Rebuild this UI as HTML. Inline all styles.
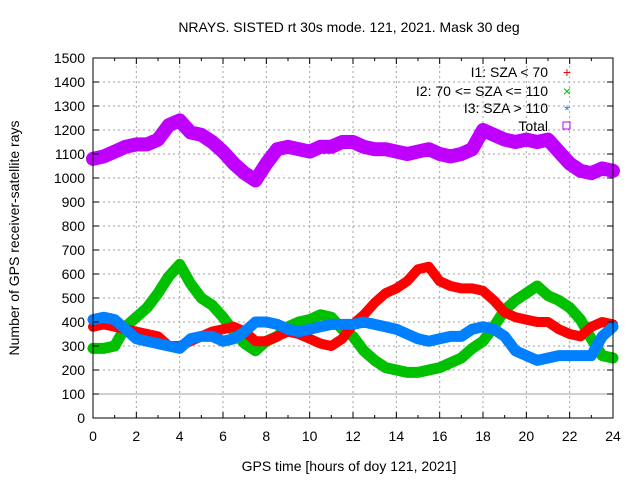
<!DOCTYPE html>
<html><head><meta charset="utf-8"><style>
body{margin:0;background:#fff}
svg{font-family:"Liberation Sans",sans-serif}
</style></head><body>
<svg id="chart" width="640" height="480" xmlns="http://www.w3.org/2000/svg">
<rect width="640" height="480" fill="#fff"/>
<text x="349" y="32" font-size="14" text-anchor="middle">NRAYS. SISTED rt 30s mode. 121, 2021. Mask 30 deg</text>
<text x="349" y="471" font-size="14" text-anchor="middle">GPS time [hours of doy 121, 2021]</text>
<text transform="translate(19,238) rotate(-90)" font-size="14" text-anchor="middle">Number of GPS receiver-satellite rays</text>
<g id="grid"></g><g id="series"></g><g id="axes"></g>
<g font-size="14" text-anchor="end">
<text x="548" y="77">I1: SZA &lt; 70</text>
<text x="548" y="96">I2: 70 &lt;= SZA &lt;= 110</text>
<text x="548" y="113">I3: SZA &gt; 110</text>
<text x="548" y="131">Total</text>
<text x="567" y="77" fill="#ff0000" text-anchor="middle">+</text>
<text x="567" y="96" fill="#00c000" text-anchor="middle">×</text>
<text x="567" y="115" fill="#0080ff" text-anchor="middle">*</text>
<rect x="563" y="122" width="7" height="7" fill="none" stroke="#c000ff"/>
</g>
</svg>
<script>
const hours=[0,0.5,1,1.5,2,2.5,3,3.5,4,4.5,5,5.5,6,6.5,7,7.5,8,8.5,9,9.5,10,10.5,11,11.5,12,12.5,13,13.5,14,14.5,15,15.5,16,16.5,17,17.5,18,18.5,19,19.5,20,20.5,21,21.5,22,22.5,23,23.5,24];
const totalVals=[1080,1090,1110,1130,1140,1140,1160,1220,1240,1190,1180,1150,1110,1060,1020,990,1060,1120,1130,1120,1110,1130,1130,1150,1150,1130,1120,1120,1110,1100,1110,1120,1100,1090,1100,1120,1200,1180,1160,1150,1160,1150,1160,1110,1060,1030,1020,1040,1030];
const i1Vals=[380,390,380,370,360,350,340,300,300,320,340,360,370,380,360,320,320,340,360,350,330,310,300,330,390,430,480,520,540,570,620,630,570,550,540,540,530,490,440,420,410,400,400,370,350,340,380,400,390];
const i2Vals=[290,290,300,380,420,460,520,590,640,560,500,470,420,360,310,280,320,340,380,400,410,430,420,370,340,280,240,210,200,190,190,200,210,230,250,290,320,380,450,490,520,550,510,490,460,410,330,260,250];
const i3Vals=[410,420,410,370,330,320,310,300,290,330,340,340,320,330,360,400,400,390,370,360,370,380,390,390,390,400,390,380,370,350,330,320,330,340,340,370,380,370,340,280,260,240,250,260,260,260,260,340,380];
const yTicks=[0,100,200,300,400,500,600,700,800,900,1000,1100,1200,1300,1400,1500];
const xTicks=[0,2,4,6,8,10,12,14,16,18,20,22,24];
const X0=93,X1=613,Y0=418,Y1=58;
const xs=h=>X0+h*(X1-X0)/24, ys=v=>Y0-v*(Y0-Y1)/1500;
const NS="http://www.w3.org/2000/svg";
function mk(t,a,p){const e=document.createElementNS(NS,t);for(const k in a)e.setAttribute(k,a[k]);p.appendChild(e);return e;}
const grid=document.getElementById('grid'),axes=document.getElementById('axes'),ser=document.getElementById('series');
yTicks.forEach(v=>{
 if(v>0&&v<1500){const g=mk('line',{x1:X0,x2:X1,y1:ys(v),y2:ys(v),stroke:'#a0a0a0','stroke-dasharray':'2,3'},grid);
 
 }
 const t=mk('text',{x:X0-8,y:ys(v)+5,'font-size':14,'text-anchor':'end'},axes);t.textContent=v;
 
 
 mk('line',{x1:X0,x2:X0+6,y1:ys(v),y2:ys(v),stroke:'#000'},axes);
 mk('line',{x1:X1,x2:X1-6,y1:ys(v),y2:ys(v),stroke:'#000'},axes);
});
for(let h=0;h<=24;h++){
 const major=h%2==0,l=major?6:3;
 mk('line',{x1:xs(h),x2:xs(h),y1:Y0,y2:Y0-l,stroke:'#000'},axes);
 mk('line',{x1:xs(h),x2:xs(h),y1:Y1,y2:Y1+l,stroke:'#000'},axes);
}
xTicks.forEach(h=>{
 if(h>0&&h<24){const g=mk('line',{x1:xs(h),x2:xs(h),y1:Y0,y2:Y1,stroke:'#a0a0a0','stroke-dasharray':'2,3'},grid);
 
 }
 const t=mk('text',{x:xs(h),y:Y0+23,'font-size':14,'text-anchor':'middle'},axes);t.textContent=h;
 
 
});
const ref=mk('line',{x1:X0,x2:X1,y1:ys(100),y2:ys(100),stroke:'#a0a0a0'},grid);


const fr=mk('rect',{x:X0,y:Y1,width:X1-X0,height:Y0-Y1,fill:'none',stroke:'#000'},axes);


function series(vals,color,w,name){
 const pts=hours.map((h,i)=>xs(h).toFixed(1)+','+ys(vals[i]).toFixed(1)).join(' ');
 const p=mk('polyline',{points:pts,fill:'none',stroke:color,'stroke-width':w,'stroke-linejoin':'round','stroke-linecap':'round'},ser);
 
 
}
series(totalVals,'#c000ff',14,'series-total');
series(i2Vals,'#00c000',11,'series-i2');
series(i1Vals,'#ff0000',10,'series-i1');
series(i3Vals,'#0080ff',11,'series-i3');
</script>
</body></html>
